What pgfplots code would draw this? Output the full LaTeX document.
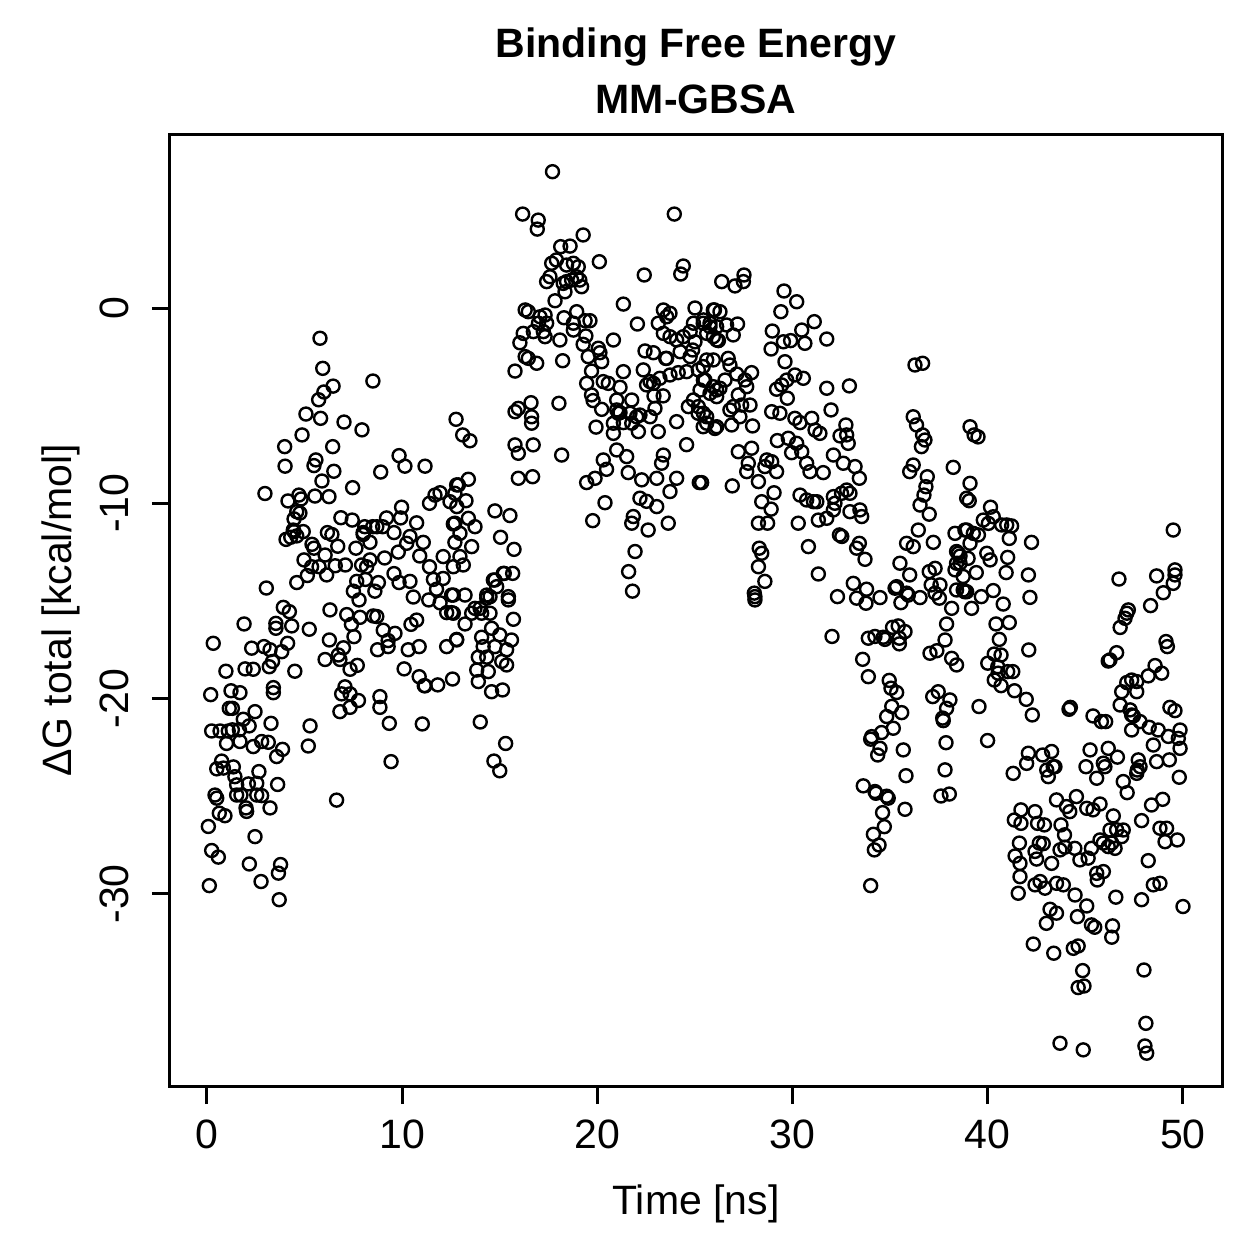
\documentclass[border=0pt]{standalone}
\usepackage{fontspec}
\setmainfont{Liberation Sans}
\usepackage{pgfplots}
\pgfplotsset{compat=1.18}
\pgfplotstableread{
x y
0.19 -19.80
1.23 -19.60
1.69 -19.70
3.40 -19.44
3.40 -19.70
1.14 -20.50
1.30 -20.50
2.46 -20.67
1.86 -21.06
2.16 -21.40
3.28 -21.27
5.28 -21.40
5.19 -22.43
0.24 -21.66
0.67 -21.66
1.09 -21.66
1.30 -21.60
1.66 -21.60
1.00 -22.30
1.69 -22.20
2.37 -22.46
2.80 -22.20
3.14 -22.24
3.57 -22.97
3.87 -22.60
0.75 -23.20
0.50 -23.60
0.84 -23.56
1.35 -23.50
1.43 -24.00
1.52 -24.42
2.12 -24.37
2.55 -24.34
2.66 -23.74
3.62 -24.40
0.41 -24.94
0.50 -25.10
1.52 -24.94
1.74 -24.94
2.55 -24.94
2.80 -24.97
0.63 -25.87
0.92 -26.00
2.00 -25.60
2.03 -25.78
3.23 -25.60
0.07 -26.55
2.46 -27.07
0.24 -27.78
0.58 -28.12
2.17 -28.47
3.77 -28.50
3.66 -28.94
2.77 -29.37
0.12 -29.58
3.70 -30.30
6.64 -25.20
9.34 -21.27
11.03 -21.30
9.43 -23.23
0.32 -17.17
2.29 -17.42
2.92 -17.34
3.23 -17.50
3.83 -17.60
4.13 -17.17
0.97 -18.60
1.95 -18.48
2.37 -18.50
3.19 -18.37
3.36 -18.10
4.50 -18.60
3.91 -15.33
4.22 -15.55
1.90 -16.18
3.53 -16.15
3.53 -16.40
4.34 -16.28
5.24 -16.45
2.97 -9.50
3.04 -14.34
5.79 -1.55
5.93 -3.09
6.46 -4.00
5.99 -4.30
5.72 -4.70
8.50 -3.74
5.07 -5.43
5.82 -5.65
7.02 -5.84
7.94 -6.24
4.87 -6.50
3.98 -7.10
6.44 -7.10
4.00 -8.10
5.58 -7.78
5.48 -8.07
6.50 -8.36
5.89 -8.86
8.90 -8.40
9.84 -7.56
10.14 -8.10
11.17 -8.10
7.46 -9.20
4.15 -9.88
4.71 -9.58
4.82 -9.78
5.53 -9.63
6.25 -9.66
4.60 -10.43
4.46 -10.80
4.76 -10.50
4.05 -11.85
4.29 -11.74
4.46 -11.45
4.60 -11.67
4.93 -11.45
4.42 -11.37
6.86 -10.74
7.44 -10.86
8.08 -11.20
8.00 -11.50
8.49 -11.20
8.70 -11.20
9.00 -11.20
9.20 -10.75
9.97 -10.20
9.92 -10.75
10.74 -11.00
11.40 -10.00
11.68 -9.58
11.94 -9.46
12.45 -9.92
12.79 -9.06
6.17 -11.50
6.40 -11.60
6.70 -12.20
5.38 -12.10
5.48 -12.30
6.05 -12.65
4.97 -12.90
5.36 -13.25
5.74 -13.25
6.57 -13.20
7.09 -13.16
5.14 -13.70
6.13 -13.67
4.60 -14.06
7.63 -12.30
8.00 -11.60
8.35 -12.00
7.92 -13.16
8.35 -12.90
8.18 -13.25
7.67 -14.00
8.12 -13.90
8.78 -14.06
8.60 -14.50
7.50 -14.50
7.79 -14.95
9.10 -12.80
9.58 -11.50
9.80 -12.50
9.58 -13.60
9.84 -14.06
10.40 -14.00
10.23 -12.05
10.40 -11.70
11.08 -12.00
10.90 -12.70
11.40 -13.25
11.60 -13.90
11.76 -14.40
12.10 -13.85
12.10 -12.73
12.62 -13.25
12.70 -12.00
12.62 -11.06
12.80 -10.17
10.57 -14.80
11.36 -14.95
11.94 -15.10
12.53 -14.70
12.28 -15.60
12.53 -15.60
6.30 -15.46
7.16 -15.70
7.40 -16.20
7.84 -15.84
8.52 -15.77
8.70 -15.80
7.53 -16.83
6.27 -17.00
6.99 -17.40
6.73 -17.77
6.81 -18.00
6.05 -18.00
7.33 -18.50
7.70 -18.30
7.07 -19.40
6.90 -19.76
7.33 -19.76
7.76 -20.10
6.81 -20.67
7.33 -20.45
8.86 -19.90
8.86 -20.45
9.03 -16.50
9.63 -16.66
9.28 -17.03
9.28 -17.34
8.74 -17.50
10.45 -16.20
10.74 -15.98
10.31 -17.50
10.87 -17.34
10.10 -18.48
10.87 -18.88
11.17 -19.35
11.82 -19.30
12.28 -17.34
12.79 -17.00
11.13 -19.34
12.76 -5.70
13.10 -6.50
13.47 -6.80
13.39 -8.77
12.88 -9.06
12.70 -9.49
13.27 -9.87
13.39 -10.77
13.73 -11.20
12.70 -11.02
12.96 -11.54
13.56 -12.22
12.96 -12.73
13.13 -13.16
14.75 -10.39
15.52 -10.63
15.04 -11.74
15.73 -12.36
15.23 -13.59
15.66 -13.59
14.75 -13.93
14.84 -14.27
14.33 -14.70
15.44 -14.78
13.22 -14.70
14.67 -13.93
15.18 -13.59
15.44 -14.95
15.70 -15.94
12.62 -14.70
14.33 -14.86
14.50 -14.78
13.73 -15.38
13.99 -15.38
13.56 -15.63
14.07 -15.63
14.50 -15.63
13.22 -16.18
12.62 -15.63
14.58 -16.40
15.00 -16.74
15.60 -17.00
14.07 -16.86
14.15 -17.34
14.75 -17.34
15.35 -17.50
13.90 -17.88
14.33 -17.88
15.10 -18.10
15.35 -18.28
13.82 -18.54
14.41 -18.62
13.90 -19.13
14.58 -19.65
15.14 -19.56
12.79 -16.97
12.58 -19.00
14.00 -21.20
14.70 -23.20
15.00 -23.70
15.30 -22.30
17.70 6.98
16.17 4.81
16.97 4.50
16.92 4.04
19.27 3.74
23.94 4.81
18.12 3.14
18.60 3.17
17.66 2.29
17.90 2.46
17.40 1.35
17.57 1.60
18.42 2.20
18.77 2.29
19.02 2.11
18.42 1.35
18.68 1.43
18.93 1.60
19.19 1.09
19.10 1.43
18.34 0.83
18.25 1.26
20.10 2.37
22.40 1.69
24.40 2.15
24.27 1.74
17.83 0.37
16.30 -0.10
16.46 -0.19
17.06 -0.45
17.32 -0.36
16.98 -0.78
17.40 -0.78
17.23 -1.21
17.32 -1.47
18.29 -0.50
18.94 -0.19
18.77 -0.78
18.77 -1.13
19.37 -0.65
19.62 -0.65
18.08 -1.64
16.72 -1.21
16.20 -1.30
16.03 -1.78
16.30 -2.49
16.46 -2.58
16.89 -2.83
15.78 -3.23
18.22 -2.70
19.41 -1.43
19.27 -1.86
19.53 -2.49
20.05 -2.06
20.13 -2.29
20.22 -2.75
20.82 -1.64
19.70 -3.23
19.45 -3.86
21.33 0.20
22.05 -0.82
22.44 -2.20
22.87 -2.29
23.50 -2.58
22.35 -3.17
22.70 -3.77
22.52 -3.94
22.87 -3.86
23.20 -3.60
23.37 -4.50
22.90 -4.50
22.95 -5.14
22.70 -5.57
23.12 -6.33
24.06 -5.82
24.57 -7.00
21.33 -3.26
20.30 -3.77
20.56 -3.86
21.16 -4.06
20.99 -4.71
21.76 -4.71
19.70 -4.45
19.78 -4.74
20.22 -5.19
20.99 -5.22
21.16 -5.36
21.07 -5.39
21.67 -5.39
22.01 -5.57
22.18 -5.48
21.33 -5.87
21.76 -5.90
22.10 -6.33
20.82 -5.90
20.82 -6.42
19.93 -6.10
18.03 -4.88
18.17 -7.53
16.60 -4.85
15.95 -5.14
15.78 -5.31
16.63 -5.57
16.63 -5.90
16.71 -7.01
15.78 -7.01
15.95 -7.44
15.95 -8.72
16.68 -8.64
20.30 -7.78
20.47 -8.26
20.99 -7.27
21.50 -7.61
21.58 -8.43
22.27 -8.80
23.04 -8.72
23.38 -7.53
23.29 -7.95
24.06 -8.72
23.72 -9.40
25.22 -8.94
19.45 -8.94
19.88 -8.72
20.39 -9.97
19.76 -10.89
22.18 -9.74
22.52 -9.90
23.04 -10.17
21.84 -10.68
21.76 -11.02
22.60 -11.37
23.63 -11.02
21.93 -12.47
21.60 -13.50
21.80 -14.50
23.38 -0.10
23.55 -0.45
23.72 -0.27
23.12 -0.78
23.38 -1.30
23.72 -1.47
24.06 -1.64
24.40 -1.47
24.75 -1.21
24.92 -0.78
25.00 0.00
25.43 -0.61
25.77 -0.78
25.94 -0.10
26.11 -0.96
25.60 -1.30
26.11 -1.64
25.00 -1.73
24.88 -2.15
24.24 -2.24
24.75 -2.49
23.55 -2.58
25.60 -2.66
25.17 -3.17
25.43 -3.69
25.94 -4.03
26.11 -4.20
24.57 -3.26
24.14 -3.31
23.72 -3.43
25.26 -4.20
24.92 -4.71
25.17 -5.05
25.43 -5.39
25.60 -5.90
26.11 -6.08
24.66 -5.05
26.37 1.35
27.05 1.13
27.48 1.35
27.51 1.69
29.56 0.87
30.21 0.32
29.40 -0.19
31.11 -0.70
31.75 -1.59
30.47 -1.13
28.96 -1.18
29.53 -1.73
29.90 -1.67
30.63 -1.81
28.90 -2.10
29.61 -2.75
26.00 -0.10
26.28 -0.19
25.42 -0.78
25.77 -0.96
26.62 -0.87
27.18 -0.82
26.96 -1.38
26.20 -1.67
25.94 -1.47
25.94 -2.66
26.70 -2.58
26.79 -2.92
25.42 -3.00
25.51 -3.69
26.54 -3.69
27.14 -3.38
27.56 -3.69
27.90 -3.31
27.65 -4.03
26.28 -4.11
25.77 -4.37
26.11 -4.54
27.22 -4.45
27.82 -4.97
27.39 -4.97
26.96 -5.05
26.79 -5.22
27.30 -5.57
25.60 -5.57
25.42 -6.08
26.02 -6.17
26.88 -5.99
27.95 -6.04
25.16 -5.39
29.18 -4.16
29.44 -3.94
29.70 -3.69
30.12 -3.43
30.55 -3.60
29.73 -4.62
28.93 -5.31
29.35 -5.39
30.12 -5.65
30.38 -5.87
30.98 -5.65
31.75 -4.11
32.91 -3.99
31.97 -5.22
31.15 -6.25
31.40 -6.42
32.43 -6.55
32.77 -6.50
32.85 -6.93
32.73 -5.99
29.22 -6.79
29.78 -6.67
30.21 -6.93
29.95 -7.41
30.47 -7.36
30.72 -7.95
30.89 -8.38
31.57 -8.43
32.09 -7.53
32.60 -7.95
33.20 -8.12
33.42 -8.72
27.22 -7.36
27.90 -7.18
27.73 -7.95
27.65 -8.38
28.25 -8.89
28.68 -7.78
28.93 -7.87
29.18 -8.38
28.58 -8.12
26.91 -9.11
25.34 -8.94
30.38 -9.58
30.72 -9.83
31.07 -9.92
31.24 -9.92
32.09 -9.66
32.17 -10.00
32.09 -10.34
31.75 -10.77
31.32 -10.86
32.94 -10.43
33.45 -10.34
33.54 -10.68
32.51 -9.49
32.77 -9.32
32.94 -9.49
32.40 -11.62
32.52 -11.70
30.29 -11.02
30.81 -12.22
31.32 -13.62
33.11 -14.10
33.79 -14.40
33.28 -12.30
33.42 -12.05
33.71 -12.87
28.42 -9.92
28.90 -10.30
29.05 -9.46
28.25 -11.02
28.72 -11.02
28.29 -12.30
28.42 -12.56
28.25 -13.25
28.58 -14.00
28.04 -14.60
28.07 -14.78
28.07 -14.95
36.27 -2.92
36.66 -2.83
36.18 -5.57
36.35 -5.99
36.66 -6.50
36.78 -6.76
36.60 -7.10
36.18 -8.04
36.00 -8.38
38.23 -8.16
36.90 -8.64
36.83 -9.15
36.73 -9.58
36.53 -10.09
37.00 -10.56
36.44 -11.37
35.84 -12.05
36.18 -12.22
37.21 -12.00
35.50 -13.07
36.00 -13.67
37.00 -13.50
37.30 -13.33
37.10 -14.18
37.55 -14.18
38.32 -11.54
38.83 -11.37
38.49 -12.56
38.40 -13.07
38.74 -13.75
38.74 -14.44
35.33 -14.27
35.84 -14.60
39.09 -6.08
39.30 -6.50
39.50 -6.60
39.09 -8.98
38.92 -9.74
33.28 -14.86
33.76 -15.12
34.48 -14.83
32.30 -14.78
35.25 -14.35
35.55 -15.09
35.93 -14.70
36.53 -14.83
37.30 -14.60
37.52 -14.86
38.15 -15.38
37.89 -16.18
37.81 -17.00
37.04 -17.68
37.39 -17.55
38.15 -17.94
38.40 -18.28
38.58 -13.07
38.92 -14.53
32.02 -16.82
33.88 -16.91
34.22 -16.82
34.65 -16.86
35.12 -16.35
35.41 -16.28
35.76 -16.57
35.47 -16.91
35.47 -17.20
34.73 -16.97
33.59 -17.99
33.88 -18.88
34.95 -19.07
35.04 -19.47
35.33 -19.69
35.08 -20.40
35.59 -20.72
34.82 -20.92
35.16 -21.52
34.56 -21.74
34.05 -21.95
34.00 -22.08
34.48 -22.55
34.36 -22.89
35.67 -22.63
35.81 -23.95
33.62 -24.47
34.22 -24.76
34.27 -24.85
34.90 -25.10
34.82 -25.00
34.61 -25.84
34.70 -26.56
34.14 -26.95
34.43 -27.50
34.19 -27.75
35.76 -25.67
34.00 -29.58
37.18 -19.90
37.46 -19.65
38.06 -20.07
37.89 -20.50
37.69 -21.00
37.72 -21.13
37.86 -22.26
37.81 -23.65
37.60 -24.99
38.03 -24.89
39.05 -9.87
40.14 -10.20
39.77 -10.86
40.03 -11.03
40.28 -10.69
40.71 -11.11
40.97 -11.11
41.22 -11.16
41.10 -11.80
38.92 -11.37
39.26 -11.54
39.52 -11.62
39.09 -12.05
42.24 -12.00
38.40 -12.47
38.99 -12.82
38.58 -12.70
39.95 -12.56
40.12 -12.90
41.02 -12.77
40.94 -13.55
42.08 -13.67
39.41 -13.55
38.32 -13.41
38.40 -14.44
38.82 -14.53
39.67 -14.78
40.28 -14.47
40.79 -15.16
39.17 -15.38
42.16 -14.82
40.42 -16.18
41.10 -16.11
40.59 -16.97
40.33 -17.72
40.68 -17.77
40.00 -18.19
40.51 -18.37
41.02 -18.62
40.33 -19.05
40.68 -19.34
41.37 -19.60
41.97 -20.04
42.28 -20.84
42.10 -17.51
39.55 -20.41
39.99 -22.15
40.53 -18.70
41.28 -18.62
49.50 -11.37
46.72 -13.88
48.65 -13.72
49.59 -13.41
49.59 -13.67
49.50 -14.10
48.99 -14.58
48.34 -15.24
47.20 -15.46
47.12 -15.63
47.03 -15.89
46.78 -16.36
49.13 -17.08
49.20 -17.34
46.60 -17.65
46.17 -18.08
46.26 -18.02
48.57 -18.31
48.91 -18.70
48.22 -18.84
47.37 -19.05
47.63 -19.13
47.12 -19.18
46.86 -19.65
47.63 -19.65
46.78 -20.33
47.29 -20.58
47.46 -20.89
47.37 -20.84
47.80 -21.18
47.37 -21.61
48.27 -21.47
48.73 -21.61
49.33 -20.45
49.59 -20.62
49.85 -21.61
49.76 -22.04
49.85 -22.55
49.25 -21.94
48.48 -22.38
44.23 -20.45
44.16 -20.55
45.39 -20.89
45.82 -21.18
46.04 -21.18
42.08 -22.80
41.99 -23.32
41.30 -23.83
42.81 -22.89
43.27 -22.71
43.35 -23.49
43.44 -23.49
43.02 -23.66
43.10 -24.00
45.24 -22.63
46.17 -22.55
46.64 -23.00
45.92 -23.31
46.00 -23.49
45.03 -23.49
45.58 -24.08
46.94 -24.25
47.14 -24.82
47.71 -23.14
47.66 -23.66
47.80 -23.49
47.63 -23.83
48.65 -23.23
49.30 -23.14
49.81 -24.03
43.52 -25.19
44.54 -25.02
44.03 -25.53
44.20 -25.79
45.07 -25.62
45.39 -25.70
45.75 -25.40
46.43 -26.01
46.26 -26.73
46.94 -26.73
47.88 -26.25
48.39 -25.45
48.96 -25.16
48.82 -26.64
49.16 -26.64
41.70 -25.70
41.36 -26.22
41.70 -26.39
42.42 -25.79
42.55 -26.39
42.90 -26.47
43.75 -26.47
41.62 -27.40
42.64 -27.40
45.75 -27.24
46.35 -27.40
49.08 -27.33
49.71 -27.24
46.60 -26.72
43.93 -26.98
46.86 -27.07
41.40 -28.06
41.65 -28.44
42.42 -27.83
42.50 -28.22
42.84 -27.43
43.27 -28.44
43.70 -27.75
43.95 -27.61
44.46 -27.67
44.72 -28.26
45.14 -28.17
45.31 -27.67
45.92 -27.40
46.17 -27.58
46.52 -27.67
45.58 -28.95
45.92 -28.86
45.61 -29.29
41.65 -29.12
41.56 -29.97
42.42 -29.54
42.68 -29.37
42.93 -29.71
43.52 -29.46
43.87 -29.54
44.47 -30.06
45.07 -30.62
46.56 -30.17
47.88 -30.30
48.48 -29.54
48.82 -29.46
50.00 -30.65
48.22 -28.30
43.19 -30.79
43.52 -30.99
43.00 -31.51
44.59 -31.17
45.31 -31.59
45.48 -31.71
46.39 -31.64
46.35 -32.22
42.33 -32.57
43.38 -33.04
44.38 -32.79
44.63 -32.67
44.86 -33.93
44.63 -34.80
44.93 -34.72
48.00 -33.90
48.10 -36.63
48.05 -37.79
48.14 -38.16
43.70 -37.65
44.89 -37.99
}\mmgbsa
\begin{document}
\fontsize{11.67pt}{14pt}\selectfont
\begin{tikzpicture}
\useasboundingbox (-1.70cm,-1.73cm) rectangle (10.89cm,10.86cm);
\begin{axis}[
  scale only axis, width=10.52cm, height=9.51cm,
  xmin=-1.895, xmax=52.0, ymin=-39.84, ymax=8.86,
  axis line style={line width=0.3mm},
  tick style={line width=0.3mm, black},
  tick align=outside, major tick length=1.8mm, tick pos=left,
  xtick={0,10,20,30,40,50}, xticklabels={0,10,20,30,40,50},
  ytick={-30,-20,-10,0}, yticklabels={-30,-20,-10,0},
  xticklabel style={anchor=north, inner sep=0pt},
  yticklabel style={rotate=90, anchor=south, inner sep=0pt},
  xticklabel shift=1.5mm, yticklabel shift=2.2mm,
  extra description/.code={
    \node[font=\bfseries, anchor=base, inner sep=0pt] at (axis description cs:0.5,1.081) {Binding Free Energy};
    \node[font=\bfseries, anchor=base, inner sep=0pt] at (axis description cs:0.5,1.0231) {MM-GBSA};
    \node[anchor=base, inner sep=0pt] at (axis description cs:0.5,-0.1356) {Time [ns]};
    \node[rotate=90, anchor=base, inner sep=0pt] at (axis description cs:-0.0941,0.5) {ΔG total [kcal/mol]};
  },
]
\addplot[only marks, mark=o, mark size=0.65mm, mark options={line width=0.24mm, black}] table[x=x, y=y] {\mmgbsa};
\end{axis}
\end{tikzpicture}
\end{document}
